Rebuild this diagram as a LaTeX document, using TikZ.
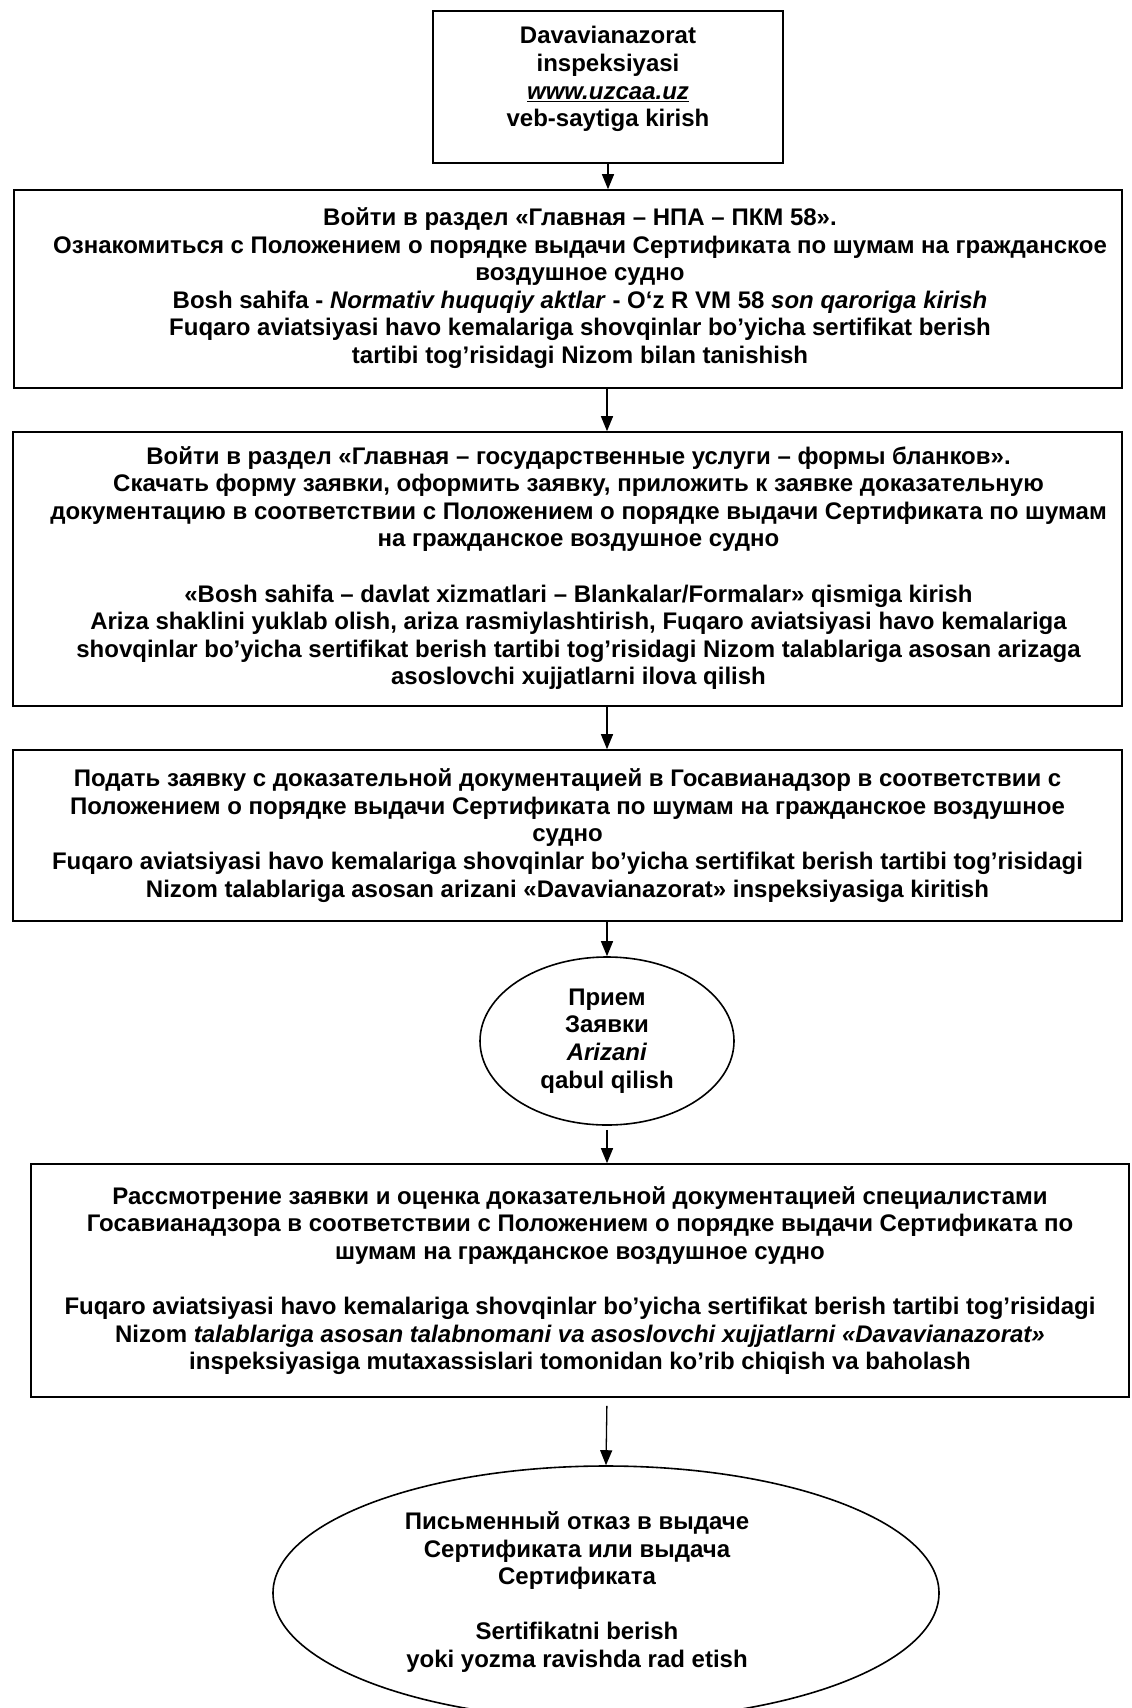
\documentclass[tikz,border=0pt]{standalone}
\usepackage{fontspec}
\setmainfont{Liberation Sans}
\usetikzlibrary{arrows.meta, shapes.geometric}

% text lines that sit a little off the middle of their frame
\newcommand{\shiftblock}[2]{\hspace*{#1}\begin{tabular}{@{}c@{}}#2\end{tabular}}

\begin{document}
\begin{tikzpicture}[x=1pt,y=-1pt,
        stepbox/.style={draw, line width=1.6pt, align=center, inner sep=0pt,
            font=\bfseries\fontsize{24}{27.6}\selectfont},
        stepoval/.style={stepbox, ellipse},
        arr/.style={line width=1.3pt, -{Triangle[length=15pt,width=12pt]}}]
    \useasboundingbox (0,0) rectangle (1132,1708);
    \coordinate (axis) at (607,0);

    \node[stepbox, minimum width=350, minimum height=152] (web) at (608,87)
        {Davavianazorat\\ inspeksiyasi\\ \textit{\underline{www.uzcaa.uz}}\\ veb-saytiga kirish\\[-7pt] \mbox{}};

    \node[stepbox, minimum width=1108, minimum height=198] (stepA) at (568,289)
        {\shiftblock{24pt}{Войти в раздел «Главная – НПА – ПКМ 58».\\
         Ознакомиться с Положением о порядке выдачи Сертификата по шумам на гражданское\\
         воздушное судно\\
         Bosh sahifa - \textit{Normativ huquqiy aktlar} - O‘z R VM 58 \textit{son qaroriga kirish}\\
         Fuqaro aviatsiyasi havo kemalariga shovqinlar bo’yicha sertifikat berish\\
         tartibi tog’risidagi Nizom bilan tanishish}};

    \node[stepbox, minimum width=1109, minimum height=274] (stepB) at (567.5,569)
        {\shiftblock{22pt}{Войти в раздел «Главная – государственные услуги – формы бланков».\\
         Скачать форму заявки, оформить заявку, приложить к заявке доказательную\\
         документацию в соответствии с Положением о порядке выдачи Сертификата по шумам\\
         на гражданское воздушное судно\\[27.6pt]
         «Bosh sahifa – davlat xizmatlari – Blankalar/Formalar» qismiga kirish\\
         Ariza shaklini yuklab olish, ariza rasmiylashtirish, Fuqaro aviatsiyasi havo kemalariga\\
         shovqinlar bo’yicha sertifikat berish tartibi tog’risidagi Nizom talablariga asosan arizaga\\
         asoslovchi xujjatlarni ilova qilish}};

    \node[stepbox, minimum width=1109, minimum height=171] (stepC) at (567.5,835.5)
        {Подать заявку с доказательной документацией в Госавианадзор в соответствии с\\
         Положением о порядке выдачи Сертификата по шумам на гражданское воздушное\\
         судно\\
         Fuqaro aviatsiyasi havo kemalariga shovqinlar bo’yicha sertifikat berish tartibi tog’risidagi\\
         Nizom talablariga asosan arizani «Davavianazorat» inspeksiyasiga kiritish};

    \node[stepoval, minimum width=254, minimum height=168] (accept) at (607,1041)
        {Прием\\ Заявки\\ \textit{Arizani}\\ qabul qilish};

    \node[stepbox, minimum width=1098, minimum height=233] (review) at (580,1280.5)
        {Рассмотрение заявки и оценка доказательной документацией специалистами\\
         Госавианадзора в соответствии с Положением о порядке выдачи Сертификата по\\
         шумам на гражданское воздушное судно\\[27.6pt]
         Fuqaro aviatsiyasi havo kemalariga shovqinlar bo’yicha sertifikat berish tartibi tog’risidagi\\
         Nizom \textit{talablariga asosan talabnomani va asoslovchi xujjatlarni «Davavianazorat»}\\
         inspeksiyasiga mutaxassislari tomonidan ko’rib chiqish va baholash};

    \node[stepoval, minimum width=666, minimum height=254] (decision) at (606,1593)
        {\shiftblock{-58pt}{Письменный отказ в выдаче\\ Сертификата или выдача\\ Сертификата\\[27.6pt]
         Sertifikatni berish\\ yoki yozma ravishda rad etish}};

    \draw[arr] (web) -- (web |- stepA.north);
    \draw[arr] (axis |- stepA.south) -- (axis |- stepB.north);
    \draw[arr] (axis |- stepB.south) -- (axis |- stepC.north);
    \draw[arr] (axis |- stepC.south) -- (accept.north);
    \draw[arr, shorten <=4pt] (accept) -- (accept |- review.north);
    \draw[arr, shorten <=8pt] (accept |- review.south) -- (decision.north);
\end{tikzpicture}
\end{document}
